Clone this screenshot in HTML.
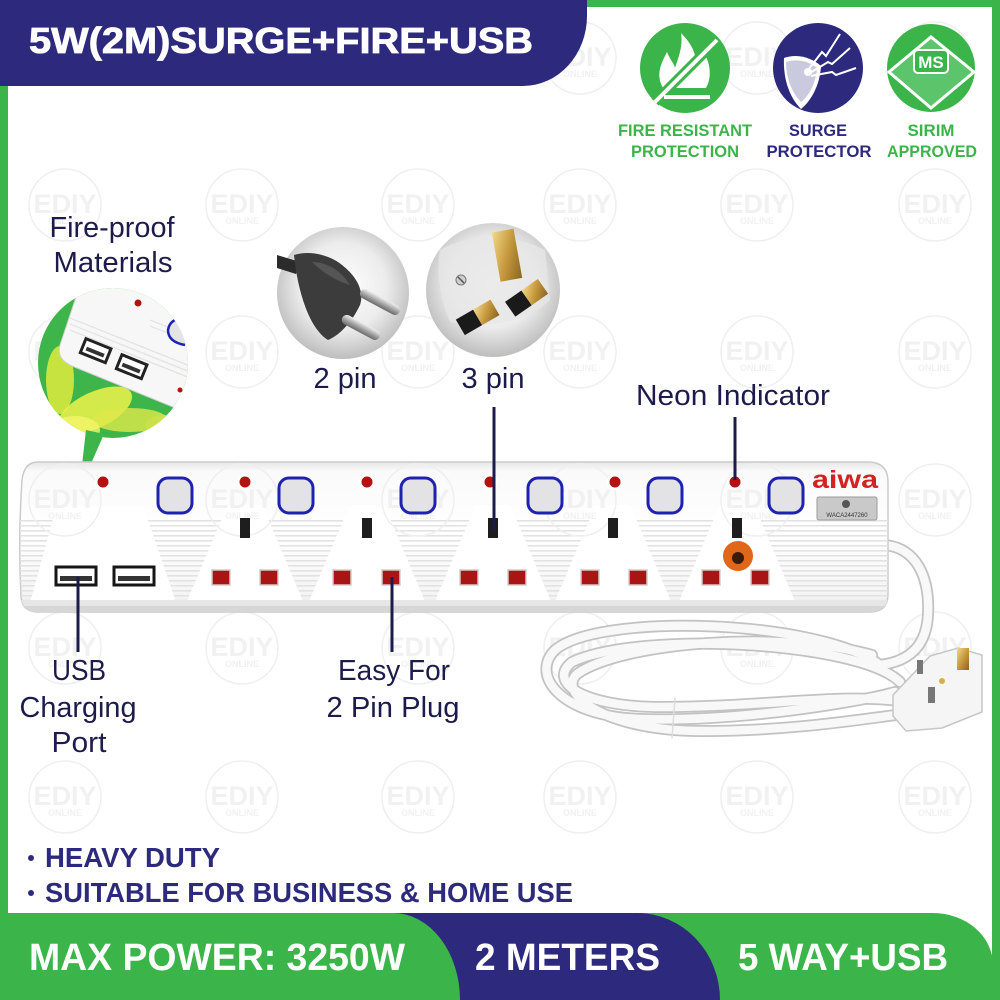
<!DOCTYPE html>
<html><head><meta charset="utf-8"><style>
html,body{margin:0;padding:0;background:#fff}
svg{display:block}
text{font-family:"Liberation Sans",Arial,sans-serif}
</style></head><body>
<svg width="1000" height="1000" viewBox="0 0 1000 1000" xmlns="http://www.w3.org/2000/svg">
<defs>
<linearGradient id="stripG" x1="0" y1="0" x2="0" y2="1">
<stop offset="0" stop-color="#e6e6e6"/><stop offset="0.06" stop-color="#fafafa"/><stop offset="0.5" stop-color="#ffffff"/><stop offset="0.9" stop-color="#f4f4f4"/><stop offset="1" stop-color="#d4d4d4"/>
</linearGradient>
<radialGradient id="pinG" cx="0.5" cy="0.45" r="0.55">
<stop offset="0" stop-color="#ffffff"/><stop offset="0.6" stop-color="#ececec"/><stop offset="1" stop-color="#bdbdbd"/>
</radialGradient>
<linearGradient id="brass" x1="0" y1="0" x2="1" y2="1">
<stop offset="0" stop-color="#f3d98c"/><stop offset="0.5" stop-color="#c79a3e"/><stop offset="1" stop-color="#8a6520"/>
</linearGradient>
<linearGradient id="silver" x1="0" y1="0" x2="0" y2="1">
<stop offset="0" stop-color="#f0f0f0"/><stop offset="0.5" stop-color="#a8a8a8"/><stop offset="1" stop-color="#6a6a6a"/>
</linearGradient>
<pattern id="hl" width="10" height="5" patternUnits="userSpaceOnUse"><rect width="10" height="1.6" fill="#e2e2e2"/></pattern>
<clipPath id="stripClip"><path d="M38,462 H868 Q888,462 888,482 V594 Q888,612 870,612 H38 Q22,612 21,596 Q18,540 22,480 Q24,462 38,462 Z"/></clipPath>
<clipPath id="fc"><circle cx="113" cy="363" r="75"/></clipPath>
<g id="wm">
<circle r="36" fill="none" stroke="#efefef" stroke-width="1.5"/>
<text y="8" text-anchor="middle" font-size="27" font-weight="bold" fill="#f1f1f1">EDIY</text>
<text y="19" text-anchor="middle" font-size="9" font-weight="bold" fill="#f1f1f1">ONLINE</text>
</g>
</defs>

<!-- frame -->
<rect x="0" y="0" width="1000" height="1000" fill="#3bb54a"/>
<rect x="8" y="7" width="984" height="906" fill="#ffffff"/>

<!-- watermarks -->
<g>
<use href="#wm" x="65" y="205"/><use href="#wm" x="242" y="205"/><use href="#wm" x="418" y="205"/><use href="#wm" x="580" y="205"/><use href="#wm" x="757" y="205"/><use href="#wm" x="935" y="205"/>
<use href="#wm" x="65" y="352"/><use href="#wm" x="242" y="352"/><use href="#wm" x="418" y="352"/><use href="#wm" x="580" y="352"/><use href="#wm" x="757" y="352"/><use href="#wm" x="935" y="352"/>
<use href="#wm" x="935" y="500"/>
<use href="#wm" x="65" y="648"/><use href="#wm" x="242" y="648"/><use href="#wm" x="418" y="648"/><use href="#wm" x="580" y="648"/><use href="#wm" x="757" y="648"/><use href="#wm" x="935" y="648"/>
<use href="#wm" x="65" y="797"/><use href="#wm" x="242" y="797"/><use href="#wm" x="418" y="797"/><use href="#wm" x="580" y="797"/><use href="#wm" x="757" y="797"/><use href="#wm" x="935" y="797"/>
<use href="#wm" x="580" y="58"/><use href="#wm" x="757" y="58"/><use href="#wm" x="935" y="58"/>
</g>

<!-- header -->
<path d="M0,0 H587 V16 A64 70 0 0 1 523,86 H0 Z" fill="#2d2a7e"/>
<text x="29" y="53" font-size="36" font-weight="bold" fill="#fff" stroke="#fff" stroke-width="0.8" textLength="504" lengthAdjust="spacingAndGlyphs">5W(2M)SURGE+FIRE+USB</text>

<!-- badges -->
<circle cx="685" cy="68" r="45" fill="#3bb54a"/>
<path d="M663,88 C655,74 662,62 667,52 C670,60 674,63 675,68 C679,56 683,46 681,33 C692,44 699,57 694,70 C700,64 703,57 702,50 C711,62 712,78 706,88 Z" fill="#fff"/>
<line x1="655" y1="102" x2="717" y2="40" stroke="#3bb54a" stroke-width="10"/>
<line x1="655" y1="102" x2="717" y2="40" stroke="#fff" stroke-width="4"/>
<rect x="664" y="95" width="46" height="4" fill="#fff"/>

<circle cx="818" cy="68" r="45" fill="#2d2a7e"/>
<path d="M784,58 C798,53 812,58 821,66 C820,84 812,100 801,109 C790,98 783,80 784,58 Z" fill="#fff"/>
<path d="M786,62 C798,58 810,62 817,68 C816,82 810,95 801,102 C792,93 786,78 786,62 Z" fill="#2d2a7e" opacity="0.25"/>
<polyline points="808,70 822,52 826,56 840,34" fill="none" stroke="#fff" stroke-width="2"/>
<polyline points="810,73 828,62 832,64 850,48" fill="none" stroke="#fff" stroke-width="2"/>
<polyline points="811,76 832,72 836,75 856,68" fill="none" stroke="#fff" stroke-width="2"/>
<circle cx="808" cy="72" r="4" fill="#fff"/>

<circle cx="931" cy="68" r="44" fill="#3bb54a"/>
<path d="M889,72 L931,37 L974,72 L931,108 Z" fill="#5cc46a" stroke="#fff" stroke-width="3"/>
<rect x="914" y="50" width="34" height="23" rx="4" fill="#3bb54a" stroke="#fff" stroke-width="2"/>
<text x="931" y="68" text-anchor="middle" font-size="17" font-weight="bold" fill="#fff">MS</text>

<g font-size="17" font-weight="bold" text-anchor="middle">
<text x="685" y="136" fill="#3bb54a" textLength="134" lengthAdjust="spacingAndGlyphs">FIRE RESISTANT</text>
<text x="685" y="157" fill="#3bb54a" textLength="108" lengthAdjust="spacingAndGlyphs">PROTECTION</text>
<text x="818" y="136" fill="#2d2a7e" textLength="58" lengthAdjust="spacingAndGlyphs">SURGE</text>
<text x="819" y="157" fill="#2d2a7e" textLength="105" lengthAdjust="spacingAndGlyphs">PROTECTOR</text>
<text x="931" y="136" fill="#3bb54a" textLength="47" lengthAdjust="spacingAndGlyphs">SIRIM</text>
<text x="932" y="157" fill="#3bb54a" textLength="90" lengthAdjust="spacingAndGlyphs">APPROVED</text>
</g>

<!-- labels -->
<g font-size="29" fill="#1d1b4c" text-anchor="middle">
<text x="112" y="237" textLength="125" lengthAdjust="spacingAndGlyphs">Fire-proof</text>
<text x="113" y="272" textLength="119" lengthAdjust="spacingAndGlyphs">Materials</text>
<text x="345" y="388" textLength="63" lengthAdjust="spacingAndGlyphs">2 pin</text>
<text x="493" y="388" textLength="63" lengthAdjust="spacingAndGlyphs">3 pin</text>
<text x="733" y="405" textLength="194" lengthAdjust="spacingAndGlyphs">Neon Indicator</text>
<text x="79" y="680" textLength="54" lengthAdjust="spacingAndGlyphs">USB</text>
<text x="78" y="717" textLength="117" lengthAdjust="spacingAndGlyphs">Charging</text>
<text x="79" y="752" textLength="55" lengthAdjust="spacingAndGlyphs">Port</text>
<text x="394" y="680" textLength="112" lengthAdjust="spacingAndGlyphs">Easy For</text>
<text x="393" y="717" textLength="133" lengthAdjust="spacingAndGlyphs">2 Pin Plug</text>
</g>

<!-- fire-proof circle -->
<g clip-path="url(#fc)">
<rect x="30" y="280" width="170" height="170" fill="#3db54a"/>
<ellipse cx="60" cy="380" rx="14" ry="34" fill="#e9ef3c" opacity="0.8"/>
<ellipse cx="95" cy="410" rx="40" ry="18" transform="rotate(-25 95 410)" fill="#eef24a" opacity="0.85"/>
<ellipse cx="130" cy="420" rx="38" ry="12" fill="#dfe94a" opacity="0.8"/>
<ellipse cx="75" cy="430" rx="25" ry="14" fill="#f4f56a" opacity="0.8"/>
<ellipse cx="165" cy="425" rx="20" ry="10" fill="#cfe24a" opacity="0.7"/>
<path d="M80,285 L200,285 L200,418 L72,366 Q56,359 60,345 Z" fill="#f7f7f7" stroke="#d0d0d0" stroke-width="1"/>
<g stroke="#e2e2e2" stroke-width="1.2">
<line x1="70" y1="318" x2="200" y2="370"/><line x1="70" y1="324" x2="200" y2="376"/><line x1="70" y1="330" x2="200" y2="382"/>
<line x1="150" y1="320" x2="200" y2="340"/><line x1="150" y1="326" x2="200" y2="346"/>
</g>
<g transform="rotate(22 95 351)"><rect x="82" y="343" width="27" height="15" fill="#fff" stroke="#222" stroke-width="3"/><rect x="86" y="350" width="19" height="4" fill="#333"/></g>
<g transform="rotate(22 131 367)"><rect x="118" y="359" width="27" height="15" fill="#fff" stroke="#222" stroke-width="3"/><rect x="122" y="366" width="19" height="4" fill="#333"/></g>
<circle cx="138" cy="303" r="3.5" fill="#b3120f"/>
<path d="M185,318 Q170,318 168,330 Q168,342 185,345" fill="#e4e4e4" stroke="#1f22b0" stroke-width="2.5"/>
<circle cx="180" cy="390" r="2.5" fill="#b3120f"/>
</g>
<polygon points="86,430 104,434 79,491" fill="#3db54a"/>

<!-- 2 pin circle -->
<circle cx="343" cy="293" r="66" fill="url(#pinG)"/>
<path d="M277,255 L300,262 L296,274 L277,268 Z" fill="#2b2b2b"/>
<path d="M294,255 C310,250 330,255 342,265 C355,275 365,290 360,305 C352,322 340,335 328,340 C318,334 310,320 305,306 C300,292 296,275 294,255 Z" fill="#3c3c3c"/>
<path d="M312,262 C328,262 342,272 350,285 C340,282 325,275 312,262 Z" fill="#555"/>
<g transform="rotate(28 380 302)"><rect x="358" y="297" width="44" height="10" rx="5" fill="url(#silver)"/></g>
<g transform="rotate(28 360 327)"><rect x="340" y="322" width="42" height="10" rx="5" fill="url(#silver)"/></g>

<!-- 3 pin circle -->
<circle cx="493" cy="290" r="67" fill="url(#pinG)"/>
<path d="M440,250 C465,235 510,232 545,250 L550,300 C530,320 490,330 450,322 C440,300 436,270 440,250 Z" fill="#e6e6e6" opacity="0.8"/>
<g transform="rotate(-10 508 255)"><rect x="496" y="230" width="22" height="50" fill="url(#brass)"/></g>
<g transform="rotate(-35 526 297)"><rect x="506" y="289" width="20" height="18" fill="#1a1a1a"/><rect x="526" y="289" width="20" height="18" fill="url(#brass)"/></g>
<g transform="rotate(-30 478 316)"><rect x="457" y="308" width="20" height="18" fill="#1a1a1a"/><rect x="477" y="308" width="20" height="18" fill="url(#brass)"/></g>
<circle cx="461" cy="280" r="5" fill="#cfcfcf" stroke="#777" stroke-width="1"/>
<line x1="458" y1="277" x2="464" y2="283" stroke="#555" stroke-width="1.5"/>

<!-- cord -->
<g fill="none" stroke-linecap="round">
<g stroke="#c2c2c2" stroke-width="12">
<path d="M885,545 C915,548 930,575 928,615 C926,650 905,662 880,665"/>
<path d="M880,665 C820,620 600,612 555,650 C530,675 560,716 640,719 C740,722 860,702 895,692"/>
<path d="M900,682 C860,642 640,630 572,662 C547,682 582,707 662,707 C762,707 850,692 905,702"/>
<path d="M872,655 C782,630 622,642 577,674 C557,692 602,731 702,731 C802,731 880,716 905,714"/>
</g>
<g stroke="#f8f8f8" stroke-width="8.5">
<path d="M885,545 C915,548 930,575 928,615 C926,650 905,662 880,665"/>
<path d="M880,665 C820,620 600,612 555,650 C530,675 560,716 640,719 C740,722 860,702 895,692"/>
<path d="M900,682 C860,642 640,630 572,662 C547,682 582,707 662,707 C762,707 850,692 905,702"/>
<path d="M872,655 C782,630 622,642 577,674 C557,692 602,731 702,731 C802,731 880,716 905,714"/>
</g>
<line x1="675" y1="698" x2="672" y2="738" stroke="#ddd" stroke-width="1.5"/>
</g>
<path d="M893,695 L930,656 L958,648 L982,655 L982,712 L942,728 L906,731 L893,716 Z" fill="#f5f5f5" stroke="#c6c6c6" stroke-width="1.5"/>
<rect x="957" y="648" width="12" height="22" fill="url(#brass)"/>
<rect x="917" y="660" width="6" height="14" fill="#777"/>
<rect x="928" y="687" width="7" height="16" fill="#777"/>
<circle cx="942" cy="681" r="3" fill="#d4b04a"/>

<!-- power strip -->
<path d="M38,462 H868 Q888,462 888,482 V594 Q888,612 870,612 H38 Q22,612 21,596 Q18,540 22,480 Q24,462 38,462 Z" fill="url(#stripG)" stroke="#cbcbcb" stroke-width="1.5"/>
<g clip-path="url(#stripClip)">
<rect x="20" y="518" width="870" height="84" fill="url(#hl)"/>
<path d="M60,512 L140,512 L170,600 L36,600 Z" fill="#fff" stroke="#fff" stroke-width="10" stroke-linejoin="round"/>
<path d="M231,510 L259,510 L297,600 L193,600 Z" fill="#fff" stroke="#fff" stroke-width="10" stroke-linejoin="round"/>
<path d="M353,510 L381,510 L419,600 L315,600 Z" fill="#fff" stroke="#fff" stroke-width="10" stroke-linejoin="round"/>
<path d="M479,510 L507,510 L545,600 L441,600 Z" fill="#fff" stroke="#fff" stroke-width="10" stroke-linejoin="round"/>
<path d="M599,510 L627,510 L665,600 L561,600 Z" fill="#fff" stroke="#fff" stroke-width="10" stroke-linejoin="round"/>
<path d="M723,510 L751,510 L789,600 L685,600 Z" fill="#fff" stroke="#fff" stroke-width="10" stroke-linejoin="round"/>
<rect x="20" y="600" width="870" height="14" fill="#e6e6e6"/>
<rect x="20" y="606" width="870" height="8" fill="#d6d6d6"/>
</g>
<use href="#wm" x="65" y="500"/><use href="#wm" x="242" y="500"/><use href="#wm" x="418" y="500"/><use href="#wm" x="580" y="500"/><use href="#wm" x="757" y="500"/>

<!-- indicators -->
<g>
<circle cx="103" cy="482" r="8" fill="#fff"/><circle cx="103" cy="482" r="5.5" fill="#b3120f"/>
<circle cx="245" cy="482" r="8" fill="#fff"/><circle cx="245" cy="482" r="5.5" fill="#b3120f"/>
<circle cx="367" cy="482" r="8" fill="#fff"/><circle cx="367" cy="482" r="5.5" fill="#b3120f"/>
<circle cx="490" cy="482" r="8" fill="#fff"/><circle cx="490" cy="482" r="5.5" fill="#b3120f"/>
<circle cx="615" cy="482" r="8" fill="#fff"/><circle cx="615" cy="482" r="5.5" fill="#b3120f"/>
<circle cx="735" cy="482" r="8" fill="#fff"/><circle cx="735" cy="482" r="5.5" fill="#b3120f"/>
</g>
<g fill="#e3e3e5" stroke="#1f22b0" stroke-width="3">
<rect x="158" y="478" width="34" height="35" rx="10"/>
<rect x="279" y="478" width="34" height="35" rx="10"/>
<rect x="401" y="478" width="34" height="35" rx="10"/>
<rect x="528" y="478" width="34" height="35" rx="10"/>
<rect x="648" y="478" width="34" height="35" rx="10"/>
<rect x="769" y="478" width="34" height="35" rx="10"/>
</g>
<g fill="#1e1e1e">
<rect x="240" y="518" width="10" height="20"/><rect x="362" y="518" width="10" height="20"/><rect x="488" y="518" width="10" height="20"/><rect x="608" y="518" width="10" height="20"/><rect x="732" y="518" width="10" height="20"/>
</g>
<g fill="#a81514" stroke="#d8c8c8" stroke-width="1.5">
<rect x="212" y="570" width="18" height="15"/><rect x="260" y="570" width="18" height="15"/>
<rect x="333" y="570" width="18" height="15"/><rect x="382" y="570" width="18" height="15"/>
<rect x="460" y="570" width="18" height="15"/><rect x="508" y="570" width="18" height="15"/>
<rect x="581" y="570" width="18" height="15"/><rect x="629" y="570" width="18" height="15"/>
<rect x="702" y="570" width="18" height="15"/><rect x="751" y="570" width="18" height="15"/>
</g>
<g>
<rect x="56" y="567" width="40" height="18" fill="#fff" stroke="#151515" stroke-width="3"/><rect x="60" y="576" width="32" height="5" fill="#333"/>
<rect x="114" y="567" width="40" height="18" fill="#fff" stroke="#151515" stroke-width="3"/><rect x="118" y="576" width="32" height="5" fill="#333"/>
</g>
<circle cx="738" cy="556" r="15" fill="#e0661a"/>
<circle cx="738" cy="558" r="6" fill="#3a1a0a"/>
<text x="812" y="488" font-size="25" font-weight="bold" fill="#d42222" textLength="66" lengthAdjust="spacingAndGlyphs">aiwa</text>
<rect x="817" y="497" width="60" height="23" rx="2" fill="#c9c9c9" stroke="#9a9a9a" stroke-width="1"/>
<circle cx="846" cy="504" r="4" fill="#555"/>
<text x="847" y="517" text-anchor="middle" font-size="6" fill="#333">WACA2447260</text>

<!-- callout lines -->
<g stroke="#1d1b4c" stroke-width="3">
<line x1="78" y1="577" x2="78" y2="652"/>
<line x1="392" y1="577" x2="392" y2="652"/>
<line x1="494" y1="407" x2="494" y2="530"/>
<line x1="735" y1="417" x2="735" y2="480"/>
</g>

<!-- bullets -->
<circle cx="31" cy="858" r="3" fill="#2d2a7e"/>
<circle cx="31" cy="893" r="3" fill="#2d2a7e"/>
<text x="45" y="867" font-size="28" font-weight="bold" fill="#2d2a7e" textLength="175" lengthAdjust="spacingAndGlyphs">HEAVY DUTY</text>
<text x="45" y="902" font-size="28" font-weight="bold" fill="#2d2a7e" textLength="528" lengthAdjust="spacingAndGlyphs">SUITABLE FOR BUSINESS &amp; HOME USE</text>

<!-- bottom band -->
<rect x="0" y="913" width="1000" height="87" fill="#ffffff"/>
<rect x="992" y="0" width="8" height="1000" fill="#3bb54a"/>
<path d="M0,913 H933 A60 52 0 0 1 993,965 V1000 H0 Z" fill="#3bb54a"/>
<path d="M0,913 H637 A83 87 0 0 1 720,1000 H0 Z" fill="#2d2a7e"/>
<path d="M0,913 H393 A67 87 0 0 1 460,1000 H0 Z" fill="#3bb54a"/>
<rect x="0" y="913" width="8" height="87" fill="#3bb54a"/>
<g font-size="38" font-weight="bold" fill="#fff">
<text x="29" y="970" textLength="376" lengthAdjust="spacingAndGlyphs">MAX POWER: 3250W</text>
<text x="475" y="970" textLength="185" lengthAdjust="spacingAndGlyphs">2 METERS</text>
<text x="738" y="970" textLength="210" lengthAdjust="spacingAndGlyphs">5 WAY+USB</text>
</g>
</svg>
</body></html>
